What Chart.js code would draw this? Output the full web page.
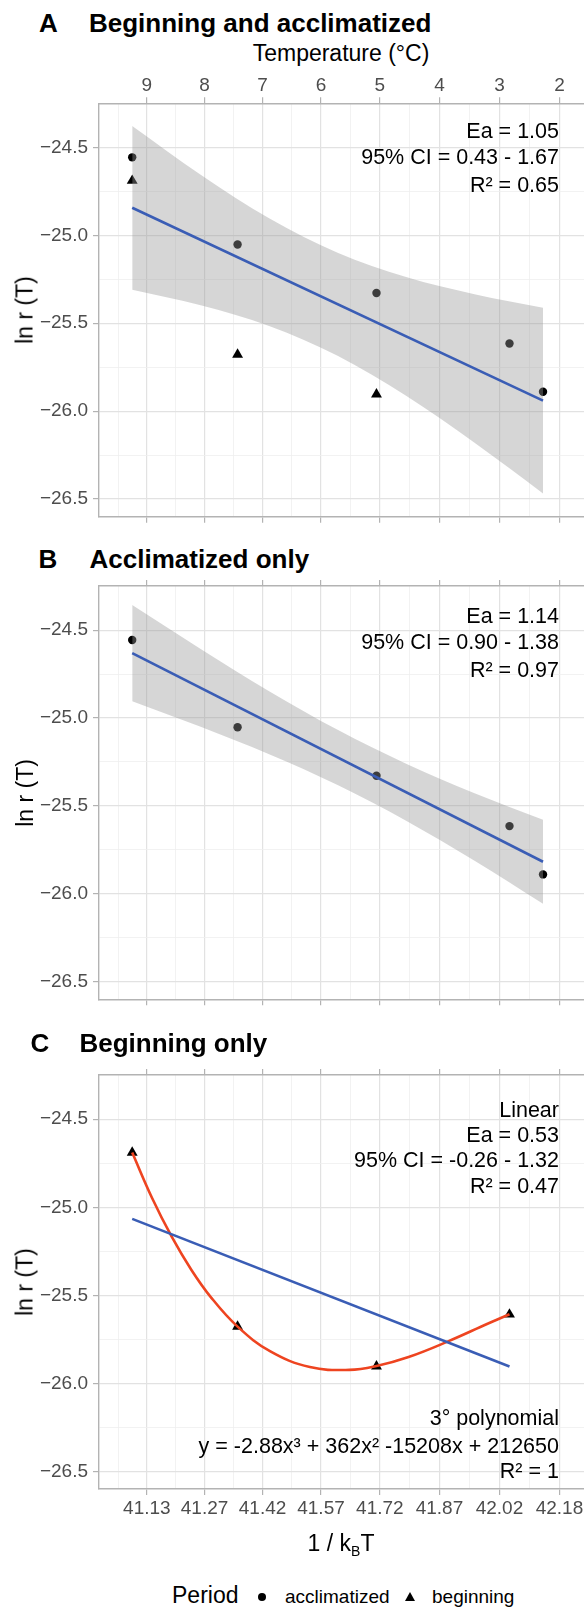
<!DOCTYPE html>
<html><head><meta charset="utf-8">
<script src="https://cdn.jsdelivr.net/npm/chart.js@4.4.1/dist/chart.umd.min.js"></script>
<style>
html,body{margin:0;padding:0;background:#fff;width:584px;height:1607px;overflow:hidden;}
body{position:relative;font-family:"Liberation Sans",Arial,Helvetica,sans-serif;}
canvas{position:absolute;left:0;}
.t{position:absolute;white-space:nowrap;color:#000;line-height:1;}
.title{font-weight:bold;font-size:26px;}
.axt{font-size:23px;transform:translateX(-50%);}
.ylab{position:absolute;font-size:23px;line-height:1;white-space:nowrap;color:#000;transform:translate(-50%,-50%) rotate(-90deg);}
.leg{font-size:19px;}
</style></head><body>

<div class="t title" style="left:39px;top:10px;">A</div>
<div class="t title" style="left:89px;top:10px;">Beginning and acclimatized</div>
<div class="t axt" style="left:341px;top:42px;">Temperature (°C)</div>
<canvas id="cA" width="600" height="480" style="top:60px;width:600px;height:480px;"></canvas>
<div class="ylab" style="left:25px;top:310px;">ln r (T)</div>

<div class="t title" style="left:38.5px;top:546px;">B</div>
<div class="t title" style="left:89.5px;top:546px;">Acclimatized only</div>
<canvas id="cB" width="600" height="460" style="top:560px;width:600px;height:460px;"></canvas>
<div class="ylab" style="left:25px;top:792.6px;">ln r (T)</div>

<div class="t title" style="left:30.5px;top:1030px;">C</div>
<div class="t title" style="left:79.5px;top:1030px;">Beginning only</div>
<canvas id="cC" width="600" height="485" style="top:1050px;width:600px;height:485px;"></canvas>
<div class="ylab" style="left:25px;top:1282px;">ln r (T)</div>
<div class="t axt" style="left:341px;top:1532px;">1 / k<sub style="font-size:14px;vertical-align:-5px;">B</sub>T</div>

<div class="t" style="left:172px;top:1583.5px;font-size:23px;">Period</div>
<div style="position:absolute;left:258px;top:1592.7px;width:8px;height:8px;border-radius:50%;background:#000;"></div>
<div class="t leg" style="left:285px;top:1587px;">acclimatized</div>
<div style="position:absolute;left:405px;top:1591.5px;width:0;height:0;border-left:5px solid transparent;border-right:5px solid transparent;border-bottom:9px solid #000;"></div>
<div class="t leg" style="left:432px;top:1587px;">beginning</div>

<script>
// ---------------- data ----------------
const tempLabels   = ['9','8','7','6','5','4','3','2'];
const invKTTicks   = [41.129, 41.275, 41.422, 41.570, 41.719, 41.870, 42.022, 42.174];
const invKTLabels  = ['41.13','41.27','41.42','41.57','41.72','41.87','42.02','42.18'];
const yTicks       = [-26.5, -26.0, -25.5, -25.0, -24.5];
const yTickLabels  = ['\u221226.5','\u221226.0','\u221225.5','\u221225.0','\u221224.5'];

const acclimX = [41.0918, 41.3587, 41.7105, 42.0474, 42.1323];
const acclimY = [-24.556, -25.052, -25.328, -25.615, -25.890];
const beginX  = [41.0918, 41.3587, 41.7105, 42.0474];
const beginY  = [-24.689, -25.678, -25.904, -25.609];

// panel A (both periods, first three beginning points)
const beginAX = [41.0918, 41.3587, 41.7105];
const beginAY = [-24.689, -25.678, -25.904];

// fitted lines and confidence ribbons
const ribbonX       = [41.0918, 41.2652, 41.4386, 41.6120, 41.7855, 41.9589, 42.1323];
const ribbonAUpper  = [-24.377, -24.655, -24.903, -25.099, -25.237, -25.335, -25.412];
const ribbonALower  = [-25.309, -25.397, -25.515, -25.685, -25.913, -26.180, -26.468];
const fitAX = [41.0918, 42.1323];
const fitAY = [-24.843, -25.940];

const ribbonBUpper  = [-24.357, -24.607, -24.847, -25.067, -25.260, -25.428, -25.579];
const ribbonBLower  = [-24.904, -25.050, -25.206, -25.381, -25.584, -25.812, -26.057];
const fitBX = [41.0918, 42.1323];
const fitBY = [-24.631, -25.818];

const fitCX = [41.0918, 42.0474];
const fitCY = [-25.066, -25.905];
const polyCX = [41.0918, 41.1418, 41.1918, 41.2418, 41.2918, 41.3587, 41.4418, 41.5418, 41.6418, 41.7105, 41.7918, 41.8918, 41.9918, 42.0474];
const polyCY = [-24.689, -24.946, -25.167, -25.356, -25.513, -25.678, -25.819, -25.908, -25.924, -25.902, -25.851, -25.762, -25.662, -25.608];

// ---------------- styling ----------------
const FONT = '"Liberation Sans", Arial, Helvetica, sans-serif';
Chart.defaults.font.family = FONT;
const X_MIN = 41.0077, X_MAX = 42.2513;
const Y_MIN = -26.6007, Y_MAX = -24.2485;
const GRID_MAJOR = '#E2E2E2', GRID_MINOR = '#EFEFEF', BORDER = '#B3B3B3', TICKTXT = '#4D4D4D';
const BLUE = '#3A5DB5', RED = '#EE4420', RIBBON = 'rgba(153,153,153,0.4)';

function pts(xs, ys) { return xs.map((x, i) => ({x: x, y: ys[i]})); }

function xTickList() {
  const list = invKTTicks.map((v, i) => ({value: v, isMajor: true, idx: i}));
  const step0 = invKTTicks[1] - invKTTicks[0];
  list.push({value: invKTTicks[0] - step0 / 2, isMajor: false});
  for (let i = 0; i < invKTTicks.length - 1; i++) {
    list.push({value: (invKTTicks[i] + invKTTicks[i + 1]) / 2, isMajor: false});
  }
  return list.sort((a, b) => a.value - b.value);
}
function yTickList() {
  const list = yTicks.map((v, i) => ({value: v, isMajor: true, idx: i}));
  for (let i = 0; i < yTicks.length - 1; i++) {
    list.push({value: (yTicks[i] + yTicks[i + 1]) / 2, isMajor: false});
  }
  return list.sort((a, b) => a.value - b.value);
}
const isMaj = c => !!(c.tick && c.tick.isMajor);

function xScale(position, labels, boxH, pad, onArea) {
  return {
    type: 'linear', position: position, min: X_MIN, max: X_MAX,
    afterBuildTicks: s => { s.ticks = xTickList(); },
    afterFit: s => { s.height = boxH; },
    ticks: {
      autoSkip: false, maxRotation: 0, minRotation: 0, padding: pad, color: TICKTXT,
      font: {size: 19},
      callback: (v, i, t) => (labels && t[i].isMajor) ? labels[t[i].idx] : ''
    },
    grid: {
      drawOnChartArea: onArea,
      color: c => isMaj(c) ? GRID_MAJOR : GRID_MINOR,
      lineWidth: c => isMaj(c) ? 1.2 : 0.8,
      tickColor: c => isMaj(c) ? BORDER : 'rgba(0,0,0,0)',
      tickLength: 6, tickWidth: 1.2
    },
    border: {display: true, color: BORDER, width: 1.4}
  };
}
function yScale() {
  return {
    type: 'linear', position: 'left', min: Y_MIN, max: Y_MAX,
    afterBuildTicks: s => { s.ticks = yTickList(); },
    afterFit: s => { s.width = 99; },
    ticks: {
      autoSkip: false, padding: 5, color: TICKTXT, font: {size: 19},
      callback: (v, i, t) => t[i].isMajor ? yTickLabels[t[i].idx] : ''
    },
    grid: {
      color: c => isMaj(c) ? GRID_MAJOR : GRID_MINOR,
      lineWidth: c => isMaj(c) ? 1.2 : 0.8,
      tickColor: c => isMaj(c) ? BORDER : 'rgba(0,0,0,0)',
      tickLength: 6, tickWidth: 1.2
    },
    border: {display: true, color: BORDER, width: 1.4}
  };
}

const annotPlugin = {
  id: 'annot',
  afterDatasetsDraw(chart, args, opts) {
    const ctx = chart.ctx, ca = chart.chartArea;
    const xr = chart.scales.x.getPixelForValue(invKTTicks[invKTTicks.length - 1]) - 0.5;
    ctx.save();
    ctx.font = '21.5px ' + FONT;
    ctx.fillStyle = '#000';
    ctx.textAlign = 'right';
    ctx.textBaseline = 'alphabetic';
    (opts.lines || []).forEach(l => {
      const y = l.fromBottom ? ca.bottom - l.dy : ca.top + l.dy;
      ctx.fillText(l.text, xr, y);
    });
    ctx.restore();
  }
};

function pointsDS(xs, ys, style, radius) {
  return {data: pts(xs, ys), showLine: false, pointStyle: style, pointRadius: radius,
    pointBackgroundColor: '#000', pointBorderColor: '#000', pointBorderWidth: 0, order: 5};
}
function ribbonDS(up, lo) {
  return [
    {data: pts(ribbonX, up), borderColor: 'rgba(0,0,0,0)', borderWidth: 0, pointRadius: 0,
     fill: '+1', backgroundColor: RIBBON, cubicInterpolationMode: 'monotone', order: 3},
    {data: pts(ribbonX, lo), borderColor: 'rgba(0,0,0,0)', borderWidth: 0, pointRadius: 0,
     fill: false, cubicInterpolationMode: 'monotone', order: 3}
  ];
}
function lineDS(xs, ys, color, tension) {
  return {data: pts(xs, ys), borderColor: color, borderWidth: 2.6, pointRadius: 0, fill: false,
    tension: tension || 0, order: 1};
}

function makeChart(id, datasets, o) {
  return new Chart(document.getElementById(id).getContext('2d'), {
    type: 'line',
    data: {datasets: datasets},
    options: {
      responsive: false, animation: false, devicePixelRatio: 1, events: [],
      layout: {padding: {left: 0, right: 10, top: 0, bottom: 0}},
      plugins: {legend: {display: false}, tooltip: {enabled: false}, annot: {lines: o.lines}},
      scales: {
        x: xScale('bottom', o.bottomLabels ? invKTLabels : null, o.bottomH, 2, true),
        x2: xScale('top', o.topLabels ? tempLabels : null, o.topH, 0, false),
        y: yScale()
      }
    },
    plugins: [annotPlugin]
  });
}

// Panel A
makeChart('cA', [
  pointsDS(beginAX, beginAY, 'triangle', 6.3),
  pointsDS(acclimX, acclimY, 'circle', 4.2),
  ...ribbonDS(ribbonAUpper, ribbonALower),
  lineDS(fitAX, fitAY, BLUE)
], {topLabels: true, bottomLabels: false, topH: 43.3, bottomH: 23.3,
    lines: [{text: 'Ea = 1.05', dy: 35}, {text: '95% CI = 0.43 - 1.67', dy: 61}, {text: 'R\u00b2 = 0.65', dy: 89}]});

// Panel B
makeChart('cB', [
  pointsDS(acclimX, acclimY, 'circle', 4.2),
  ...ribbonDS(ribbonBUpper, ribbonBLower),
  lineDS(fitBX, fitBY, BLUE)
], {topLabels: false, bottomLabels: false, topH: 26, bottomH: 20.7,
    lines: [{text: 'Ea = 1.14', dy: 36.7}, {text: '95% CI = 0.90 - 1.38', dy: 63.3}, {text: 'R\u00b2 = 0.97', dy: 90.7}]});

// Panel C
makeChart('cC', [
  pointsDS(beginX, beginY, 'triangle', 6.3),
  lineDS(fitCX, fitCY, BLUE),
  lineDS(polyCX, polyCY, RED, 0.4)
], {topLabels: false, bottomLabels: true, topH: 25, bottomH: 46,
    lines: [{text: 'Linear', dy: 41.7}, {text: 'Ea = 0.53', dy: 66.7}, {text: '95% CI = -0.26 - 1.32', dy: 92.3},
            {text: 'R\u00b2 = 0.47', dy: 117.7},
            {text: '3\u00b0 polynomial', dy: 64, fromBottom: true},
            {text: 'y = -2.88x\u00b3 + 362x\u00b2 -15208x + 212650', dy: 36.3, fromBottom: true},
            {text: 'R\u00b2 = 1', dy: 10.7, fromBottom: true}]});
</script>
</body></html>
